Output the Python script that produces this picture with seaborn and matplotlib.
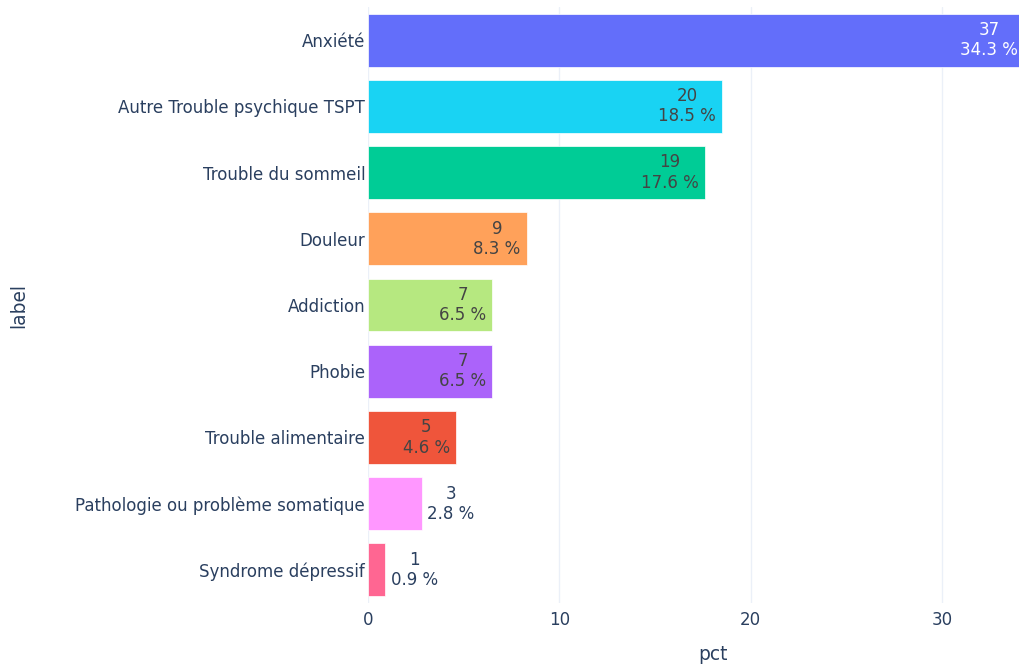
import numpy as np
import pandas as pd
import matplotlib.pyplot as plt
import matplotlib.colors as mcolors
import seaborn as sns

# data
labels = ['Anxiété', 'Autre Trouble psychique TSPT', 'Trouble du sommeil', 'Douleur',
          'Addiction', 'Phobie', 'Trouble alimentaire',
          'Pathologie ou problème somatique', 'Syndrome dépressif']
counts = [37, 20, 19, 9, 7, 7, 5, 3, 1]
pcts = [34.3, 18.5, 17.6, 8.3, 6.5, 6.5, 4.6, 2.8, 0.9]
colors = ['#636EFA', '#19D3F3', '#00CC96', '#FFA15A', '#B6E880',
          '#AB63FA', '#EF553B', '#FF97FF', '#FF6692']

df = pd.DataFrame({'label': labels, 'count': counts, 'pct': pcts})

sns.set_style('white')
plt.rcParams['font.family'] = ['DejaVu Sans']
txt_col = '#2a3f5f'

fig = plt.figure(figsize=(10.2, 6.65), dpi=100)
# plot area runs past the right edge (the reference is cropped there)
ax = fig.add_axes([0.3608, 0.0932, 0.6755, 0.8963])

sns.barplot(data=df, y='label', x='pct', hue='label', palette=colors,
            orient='h', width=0.8, edgecolor='white', linewidth=0.5,
            saturation=1, legend=False, ax=ax, zorder=2)

ax.set_xlim(0, 36.0)
ax.set_xticks([0, 10, 20, 30])
ax.grid(axis='x', color='#EBF0F8', linewidth=1, zorder=0)
ax.set_axisbelow(True)
for s in ax.spines.values():
    s.set_visible(False)
ax.tick_params(length=0, labelsize=12, labelcolor=txt_col, pad=2)
ax.tick_params(axis='x', pad=6)
ax.set_xlabel('pct', fontsize=13.4, color=txt_col)
ax.set_ylabel('label', fontsize=13.4, color=txt_col)
ax.xaxis.set_label_coords(0.5, -0.07)
ax.yaxis.set_label_coords(-0.4935, 0.5)

def brightness(c):
    r, g, b = mcolors.to_rgb(c)
    return (299 * r + 587 * g + 114 * b) * 255 / 1000

for i, (c, p, col) in enumerate(zip(counts, pcts, colors)):
    s = f'{c}\n{p} %'
    if p >= 4:
        tc = 'white' if brightness(col) < 128 else '#444444'
        ax.annotate(s, (p, i), xytext=(-4.5, 0), textcoords='offset points',
                    ha='right', va='center', multialignment='center',
                    fontsize=12, color=tc, linespacing=1.15,
                    annotation_clip=False)
    else:
        ax.annotate(s, (p, i), xytext=(4, 0), textcoords='offset points',
                    ha='left', va='center', multialignment='center',
                    fontsize=12, color=txt_col, linespacing=1.15)

plt.savefig('out.png', dpi=100)
